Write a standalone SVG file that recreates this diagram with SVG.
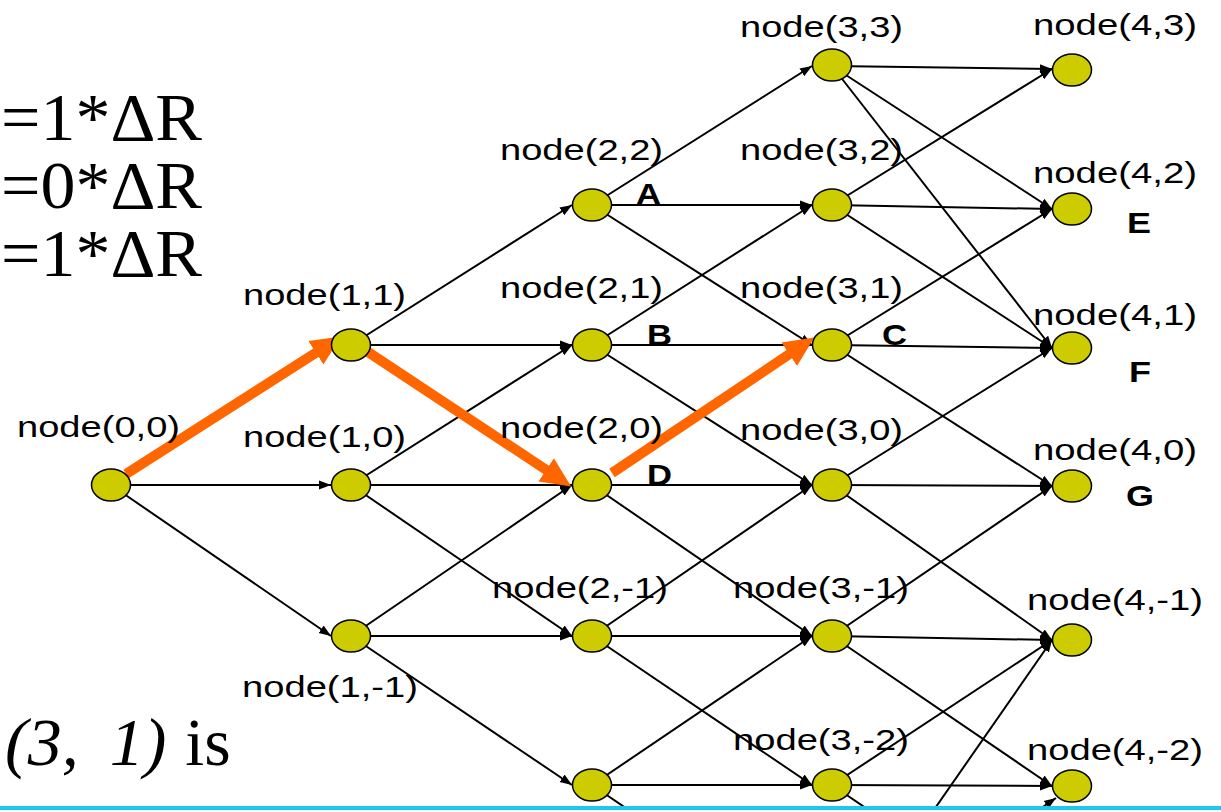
<svg xmlns="http://www.w3.org/2000/svg" width="1221" height="812" viewBox="0 0 1221 812">
  <style>
    .edge { stroke: #000; stroke-width: 2; fill: none; marker-end: url(#ah); }
    .edge-open { stroke: #000; stroke-width: 2; fill: none; }
    .path { stroke: #ff6600; stroke-width: 10; fill: none; marker-end: url(#big); }
    .node ellipse { fill: #cccc00; stroke: #000; stroke-width: 1.5; }
    .lbl { font-family: "Liberation Sans", Arial, sans-serif; font-size: 29px; fill: #000; }
    .tag { font-family: "Liberation Sans", Arial, sans-serif; font-size: 30px; font-weight: bold; fill: #000; }
    .eq { font-family: "Liberation Serif", "Times New Roman", serif; font-size: 68px; fill: #000; }
    .note { font-family: "Liberation Serif", "Times New Roman", serif; font-size: 68px; fill: #000; word-spacing: 2px; }
    .note .it { font-style: italic; word-spacing: 14px; }
  </style>
  <defs>
    <marker id="ah" markerUnits="userSpaceOnUse" markerWidth="14" markerHeight="12" viewBox="0 -6 14 12" refX="12" refY="0" orient="auto">
      <path d="M0,-4.5 L12,0 L0,4.5 z" fill="#000"/>
    </marker>
    <marker id="big" markerUnits="userSpaceOnUse" markerWidth="34" markerHeight="34" viewBox="0 -17 34 34" refX="1" refY="0" orient="auto">
      <path d="M0,-14 L30,0 L0,14 z" fill="#ff6600"/>
    </marker>
  </defs>

  <rect width="1221" height="812" fill="#fff"/>

  <!-- side text -->
  <text class="eq" x="1" y="140" textLength="201" lengthAdjust="spacingAndGlyphs">=1*ΔR</text>
  <text class="eq" x="1" y="208" textLength="201" lengthAdjust="spacingAndGlyphs">=0*ΔR</text>
  <text class="eq" x="1" y="276" textLength="201" lengthAdjust="spacingAndGlyphs">=1*ΔR</text>
  <text class="note" x="5" y="765"><tspan class="it">(3, 1)</tspan> is</text>

  <!-- tree branches -->
  <g id="connectors">
    <line class="edge" x1="111" y1="485" x2="331" y2="485"/>
    <line class="edge" x1="111" y1="485" x2="331" y2="636"/>

    <line class="edge" x1="351" y1="345" x2="572" y2="205"/>
    <line class="edge" x1="351" y1="345" x2="572" y2="345"/>
    <line class="edge" x1="351" y1="485" x2="572" y2="345"/>
    <line class="edge" x1="351" y1="485" x2="572" y2="485"/>
    <line class="edge" x1="351" y1="485" x2="572" y2="636"/>
    <line class="edge" x1="351" y1="636" x2="572" y2="485"/>
    <line class="edge" x1="351" y1="636" x2="572" y2="636"/>
    <line class="edge" x1="351" y1="636" x2="572" y2="785"/>

    <line class="edge" x1="592" y1="205" x2="812" y2="66"/>
    <line class="edge" x1="592" y1="205" x2="812" y2="205"/>
    <line class="edge" x1="592" y1="205" x2="812" y2="345"/>
    <line class="edge" x1="592" y1="345" x2="812" y2="205"/>
    <line class="edge" x1="592" y1="345" x2="812" y2="345"/>
    <line class="edge" x1="592" y1="345" x2="812" y2="485"/>
    <line class="edge" x1="592" y1="485" x2="812" y2="485"/>
    <line class="edge" x1="592" y1="485" x2="812" y2="636"/>
    <line class="edge" x1="592" y1="636" x2="812" y2="485"/>
    <line class="edge" x1="592" y1="636" x2="812" y2="636"/>
    <line class="edge" x1="592" y1="636" x2="812" y2="785"/>
    <line class="edge" x1="592" y1="785" x2="812" y2="636"/>
    <line class="edge" x1="592" y1="785" x2="812" y2="785"/>
    <line class="edge-open" x1="592" y1="785" x2="812" y2="935"/>

    <line class="edge" x1="832" y1="66" x2="1052" y2="69"/>
    <line class="edge" x1="832" y1="66" x2="1052" y2="209"/>
    <line class="edge" x1="832" y1="66" x2="1052" y2="348"/>
    <line class="edge" x1="832" y1="205" x2="1052" y2="69"/>
    <line class="edge" x1="832" y1="205" x2="1052" y2="209"/>
    <line class="edge" x1="832" y1="205" x2="1052" y2="348"/>
    <line class="edge" x1="832" y1="345" x2="1052" y2="209"/>
    <line class="edge" x1="832" y1="345" x2="1052" y2="348"/>
    <line class="edge" x1="832" y1="345" x2="1052" y2="486"/>
    <line class="edge" x1="832" y1="485" x2="1052" y2="348"/>
    <line class="edge" x1="832" y1="485" x2="1052" y2="486"/>
    <line class="edge" x1="832" y1="485" x2="1052" y2="640"/>
    <line class="edge" x1="832" y1="636" x2="1052" y2="486"/>
    <line class="edge" x1="832" y1="636" x2="1052" y2="640"/>
    <line class="edge" x1="832" y1="636" x2="1052" y2="786"/>
    <line class="edge" x1="832" y1="785" x2="1052" y2="640"/>
    <line class="edge" x1="832" y1="785" x2="1052" y2="786"/>
    <line class="edge-open" x1="832" y1="785" x2="1052" y2="935"/>
    <line class="edge" x1="840" y1="945" x2="1052" y2="640"/>
    <line class="edge" x1="840" y1="945" x2="1056" y2="798"/>

    <!-- highlighted route -->
    <line class="path" x1="126" y1="474" x2="316.7" y2="352.2"/>
    <line class="path" x1="368" y1="352" x2="547" y2="470.4"/>
    <line class="path" x1="612" y1="473" x2="790.1" y2="353.7"/>
  </g>

  <!-- nodes -->
  <g id="n0_0" class="node"><ellipse cx="111" cy="485" rx="19.5" ry="16"/><text class="lbl" x="17" y="437" textLength="163" lengthAdjust="spacingAndGlyphs">node(0,0)</text></g>

  <g id="n1_1" class="node"><ellipse cx="351" cy="345" rx="19.5" ry="16"/><text class="lbl" x="243" y="305" textLength="163" lengthAdjust="spacingAndGlyphs">node(1,1)</text></g>
  <g id="n1_0" class="node"><ellipse cx="351" cy="485" rx="19.5" ry="16"/><text class="lbl" x="243" y="447" textLength="163" lengthAdjust="spacingAndGlyphs">node(1,0)</text></g>
  <g id="n1_m1" class="node"><ellipse cx="351" cy="636" rx="19.5" ry="16"/><text class="lbl" x="242" y="697" textLength="176" lengthAdjust="spacingAndGlyphs">node(1,-1)</text></g>

  <g id="n2_2" class="node"><ellipse cx="592" cy="205" rx="19.5" ry="16"/><text class="lbl" x="500" y="160" textLength="163" lengthAdjust="spacingAndGlyphs">node(2,2)</text></g>
  <g id="n2_1" class="node"><ellipse cx="592" cy="345" rx="19.5" ry="16"/><text class="lbl" x="500" y="298" textLength="163" lengthAdjust="spacingAndGlyphs">node(2,1)</text></g>
  <g id="n2_0" class="node"><ellipse cx="592" cy="485" rx="19.5" ry="16"/><text class="lbl" x="500" y="438" textLength="163" lengthAdjust="spacingAndGlyphs">node(2,0)</text></g>
  <g id="n2_m1" class="node"><ellipse cx="592" cy="636" rx="19.5" ry="16"/><text class="lbl" x="492" y="598" textLength="176" lengthAdjust="spacingAndGlyphs">node(2,-1)</text></g>
  <g id="n2_m2" class="node"><ellipse cx="592" cy="785" rx="19.5" ry="16"/></g>

  <g id="n3_3" class="node"><ellipse cx="832" cy="65" rx="19.5" ry="16"/><text class="lbl" x="740" y="37" textLength="163" lengthAdjust="spacingAndGlyphs">node(3,3)</text></g>
  <g id="n3_2" class="node"><ellipse cx="832" cy="205" rx="19.5" ry="16"/><text class="lbl" x="740" y="160" textLength="163" lengthAdjust="spacingAndGlyphs">node(3,2)</text></g>
  <g id="n3_1" class="node"><ellipse cx="832" cy="345" rx="19.5" ry="16"/><text class="lbl" x="740" y="298" textLength="163" lengthAdjust="spacingAndGlyphs">node(3,1)</text></g>
  <g id="n3_0" class="node"><ellipse cx="832" cy="485" rx="19.5" ry="16"/><text class="lbl" x="740" y="440" textLength="163" lengthAdjust="spacingAndGlyphs">node(3,0)</text></g>
  <g id="n3_m1" class="node"><ellipse cx="832" cy="636" rx="19.5" ry="16"/><text class="lbl" x="733" y="598" textLength="176" lengthAdjust="spacingAndGlyphs">node(3,-1)</text></g>
  <g id="n3_m2" class="node"><ellipse cx="832" cy="785" rx="19.5" ry="16"/><text class="lbl" x="733" y="750" textLength="176" lengthAdjust="spacingAndGlyphs">node(3,-2)</text></g>

  <g id="n4_3" class="node"><ellipse cx="1072" cy="70" rx="19.5" ry="16"/><text class="lbl" x="1033" y="35" textLength="164" lengthAdjust="spacingAndGlyphs">node(4,3)</text></g>
  <g id="n4_2" class="node"><ellipse cx="1072" cy="209" rx="19.5" ry="16"/><text class="lbl" x="1033" y="183" textLength="164" lengthAdjust="spacingAndGlyphs">node(4,2)</text></g>
  <g id="n4_1" class="node"><ellipse cx="1072" cy="348" rx="19.5" ry="16"/><text class="lbl" x="1033" y="325" textLength="164" lengthAdjust="spacingAndGlyphs">node(4,1)</text></g>
  <g id="n4_0" class="node"><ellipse cx="1072" cy="486" rx="19.5" ry="16"/><text class="lbl" x="1033" y="460" textLength="164" lengthAdjust="spacingAndGlyphs">node(4,0)</text></g>
  <g id="n4_m1" class="node"><ellipse cx="1072" cy="640" rx="19.5" ry="16"/><text class="lbl" x="1027" y="610" textLength="176" lengthAdjust="spacingAndGlyphs">node(4,-1)</text></g>
  <g id="n4_m2" class="node"><ellipse cx="1072" cy="786" rx="19.5" ry="16"/><text class="lbl" x="1027" y="760" textLength="176" lengthAdjust="spacingAndGlyphs">node(4,-2)</text></g>

  <!-- branch letters -->
  <g id="tags">
    <text class="tag" x="636" y="204" textLength="25" lengthAdjust="spacingAndGlyphs">A</text>
    <text class="tag" x="647" y="345" textLength="25" lengthAdjust="spacingAndGlyphs">B</text>
    <text class="tag" x="882" y="345" textLength="25" lengthAdjust="spacingAndGlyphs">C</text>
    <text class="tag" x="647" y="485" textLength="25" lengthAdjust="spacingAndGlyphs">D</text>
    <text class="tag" x="1127" y="233" textLength="24" lengthAdjust="spacingAndGlyphs">E</text>
    <text class="tag" x="1129" y="382" textLength="22" lengthAdjust="spacingAndGlyphs">F</text>
    <text class="tag" x="1126" y="506" textLength="28" lengthAdjust="spacingAndGlyphs">G</text>
  </g>

  <!-- footer rule -->
  <rect x="0" y="806" width="1221" height="4" fill="#1ec6f2"/>
  <rect x="0" y="810" width="1221" height="2" fill="#fff"/>
</svg>
